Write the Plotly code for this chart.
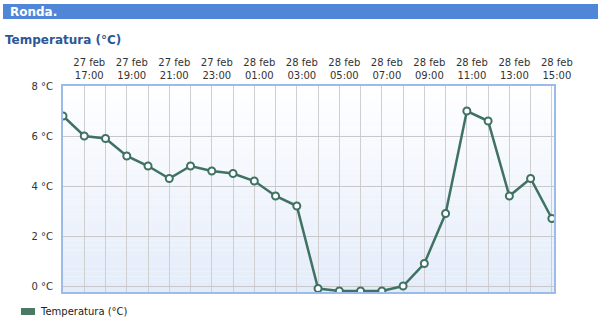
import plotly.graph_objects as go

times = ["2025-02-27 16:00", "2025-02-27 17:00", "2025-02-27 18:00", "2025-02-27 19:00",
         "2025-02-27 20:00", "2025-02-27 21:00", "2025-02-27 22:00", "2025-02-27 23:00",
         "2025-02-28 00:00", "2025-02-28 01:00", "2025-02-28 02:00", "2025-02-28 03:00",
         "2025-02-28 04:00", "2025-02-28 05:00", "2025-02-28 06:00", "2025-02-28 07:00",
         "2025-02-28 08:00", "2025-02-28 09:00", "2025-02-28 10:00", "2025-02-28 11:00",
         "2025-02-28 12:00", "2025-02-28 13:00", "2025-02-28 14:00", "2025-02-28 15:00"]
temps = [6.8, 6.0, 5.9, 5.2, 4.8, 4.3, 4.8, 4.6, 4.5, 4.2, 3.6, 3.2,
         -0.1, -0.2, -0.2, -0.2, 0.0, 0.9, 2.9, 7.0, 6.6, 3.6, 4.3, 2.7]
tick_times = times[1::2]
tick_labels = ["27 feb<br>17:00", "27 feb<br>19:00", "27 feb<br>21:00", "27 feb<br>23:00",
               "28 feb<br>01:00", "28 feb<br>03:00", "28 feb<br>05:00", "28 feb<br>07:00",
               "28 feb<br>09:00", "28 feb<br>11:00", "28 feb<br>13:00", "28 feb<br>15:00"]
y_ticks = [0, 2, 4, 6, 8]
y_labels = ["0 °C", "2 °C", "4 °C", "6 °C", "8 °C"]
series_name = "Temperatura (°C)"
chart_title = "Ronda."

GREEN = "#3f7262"
FONT = "DejaVu Sans"

# plot area in pixels: x 63..554, y 86..292
L, R, T, B = 63, 554, 86, 292
W, H = R - L, B - T


def px(x):
    return (x - L) / W


def py(y):
    return (B - y) / H


fig = go.Figure()
fig.add_trace(go.Scatter(
    x=times, y=temps, mode="lines+markers", showlegend=False,
    line=dict(color=GREEN, width=2.5),
    marker=dict(size=7, color="white", line=dict(color=GREEN, width=2)),
))

# background gradient bands
n = 40
top = (255, 255, 255)
bot = (228, 236, 250)
for i in range(n):
    t = (i + 0.5) / n
    c = tuple(int(round(top[k] + (bot[k] - top[k]) * t)) for k in range(3))
    fig.add_shape(type="rect", xref="paper", yref="paper",
                  x0=0, x1=1, y0=1 - (i + 1) / n, y1=1 - i / n,
                  fillcolor="rgb(%d,%d,%d)" % c, line=dict(width=0), layer="below")

# title bar
fig.add_shape(type="rect", xref="paper", yref="paper",
              x0=px(3), x1=px(598), y0=py(19), y1=py(4),
              fillcolor="#5086d8", line=dict(width=0), layer="above")
fig.add_annotation(xref="paper", yref="paper", x=px(8), y=py(11.5),
                   xanchor="left", yanchor="middle", text="<b>" + chart_title + "</b>",
                   showarrow=False, font=dict(family=FONT, size=12, color="white"))
fig.add_annotation(xref="paper", yref="paper", x=px(3), y=py(40),
                   xanchor="left", yanchor="middle", text="<b>" + series_name + "</b>",
                   showarrow=False, font=dict(family=FONT, size=12, color="#2b5797"))

# legend (swatch + label)
fig.add_shape(type="rect", xref="paper", yref="paper",
              x0=px(21), x1=px(35), y0=py(315), y1=py(308),
              fillcolor="#4a7a66", line=dict(width=0))
fig.add_annotation(xref="paper", yref="paper", x=px(38), y=py(311.5),
                   xanchor="left", yanchor="middle", text=series_name,
                   showarrow=False, font=dict(family=FONT, size=10, color="#222222"))

fig.update_layout(
    width=601, height=330,
    margin=dict(l=L, r=601 - R, t=T, b=330 - B, autoexpand=False),
    paper_bgcolor="white", plot_bgcolor="rgba(0,0,0,0)",
    font=dict(family=FONT, size=10, color="#333333"),
    showlegend=False,
    xaxis=dict(type="date", side="top", range=["2025-02-27 16:00", "2025-02-28 15:06"],
               tickvals=tick_times, ticktext=tick_labels, ticks="", ticklabelshift=5,
               ticklabelstandoff=1,
               showgrid=True, gridcolor="#cfcfcf", gridwidth=1,
               minor=dict(dtick=3600000, showgrid=True, gridcolor="#cfcfcf", gridwidth=1),
               showline=True, linecolor="#9bbbe9", linewidth=2, mirror=True,
               zeroline=False, fixedrange=True),
    yaxis=dict(range=[-0.24, 8], tickvals=y_ticks, ticktext=y_labels,
               showgrid=True, gridcolor="#c8c8cc", gridwidth=1,
               showline=True, linecolor="#9bbbe9", linewidth=2, mirror=True,
               zeroline=False, ticks="", ticklabelstandoff=6),
)

fig.write_html("out.html")
